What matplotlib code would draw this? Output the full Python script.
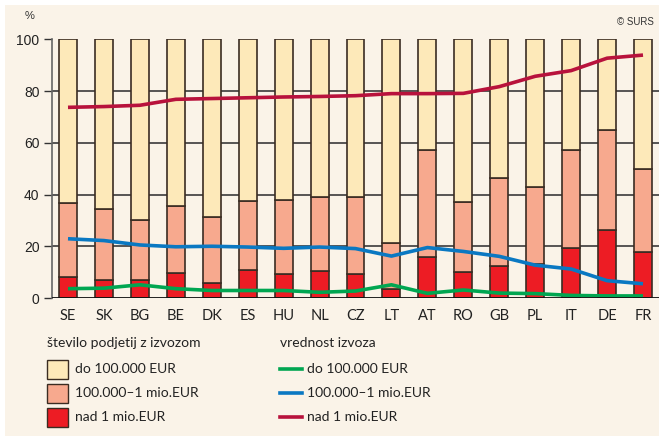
import numpy as np
import matplotlib
matplotlib.use('Agg')
import matplotlib.pyplot as plt
from matplotlib.patches import Rectangle
from matplotlib.lines import Line2D

countries = ["SE", "SK", "BG", "BE", "DK", "ES", "HU", "NL", "CZ",
             "LT", "AT", "RO", "GB", "PL", "IT", "DE", "FR"]

# stevilo podjetij z izvozom (cumulative shares, %)
nad1 = [8.3, 7.1, 7.0, 9.6, 5.9, 10.8, 9.1, 10.4, 9.4,
        3.3, 15.8, 9.9, 12.5, 13.1, 19.3, 26.4, 17.8]
do1mio_top = [36.8, 34.5, 30.2, 35.6, 31.5, 37.6, 37.8, 39.2, 39.2,
              21.2, 57.3, 37.2, 46.2, 42.8, 57.1, 65.1, 49.7]

# vrednost izvoza (%)
val_do100k = [3.6, 3.8, 5.1, 3.6, 2.9, 2.9, 2.9, 2.2, 2.7,
              5.1, 1.8, 3.1, 1.9, 1.7, 1.0, 0.8, 0.8]
val_mid = [22.9, 22.2, 20.5, 19.8, 20.0, 19.7, 19.2, 19.7, 19.1,
           16.2, 19.5, 18.0, 16.1, 12.7, 11.2, 6.7, 5.5]
val_nad1 = [73.7, 74.0, 74.5, 76.8, 77.1, 77.4, 77.7, 77.9, 78.2,
            79.0, 79.0, 79.1, 81.7, 85.7, 87.9, 92.7, 93.9]

BG = "#faf3e8"
C_LIGHT = "#fde9b9"
C_SALMON = "#f7a98e"
C_RED = "#ed1c24"
L_GREEN = "#00a651"
L_BLUE = "#0a78c2"
L_RED = "#b8123c"
EDGE = "#3a2c22"

W, H = 659, 436
fig = plt.figure(figsize=(W / 100, H / 100), dpi=100)
fig.patch.set_facecolor("white")
fig.add_artist(Rectangle((5 / W, 0), 1, 1 - 5 / H, transform=fig.transFigure,
                         facecolor=BG, edgecolor="none", zorder=-10))

ax = fig.add_axes([52 / W, 1 - 298 / H, (W - 52) / W, (298 - 39.3) / H])
ax.patch.set_alpha(0)

x = np.arange(len(countries))
nad1 = np.array(nad1)
mid_top = np.array(do1mio_top)
bw = 0.5
ax.bar(x, nad1, bw, color=C_RED, edgecolor=EDGE, linewidth=1.2, zorder=3)
ax.bar(x, mid_top - nad1, bw, bottom=nad1, color=C_SALMON, edgecolor=EDGE, linewidth=1.2, zorder=3)
ax.bar(x, 100 - mid_top, bw, bottom=mid_top, color=C_LIGHT, edgecolor=EDGE, linewidth=1.2, zorder=3)

ax.plot(x, val_do100k, color=L_GREEN, lw=2.6, zorder=4, solid_capstyle="butt")
ax.plot(x, val_mid, color=L_BLUE, lw=2.6, zorder=4, solid_capstyle="butt")
ax.plot(x, val_nad1, color=L_RED, lw=2.6, zorder=4, solid_capstyle="butt")

ax.set_xlim(-0.445, 16.445)
ax.set_ylim(0, 100)
for yv in [20, 40, 60, 80]:
    ax.axhline(yv, color="#3a3a3a", lw=1.2, zorder=1)
ax.axhline(0, color="#111111", lw=1.3, zorder=5)

for s in ["top", "right", "bottom"]:
    ax.spines[s].set_visible(False)
ax.spines["left"].set_color("#666666")
ax.spines["left"].set_linewidth(1.2)
ax.set_yticks([0, 20, 40, 60, 80, 100])
ax.tick_params(axis="y", length=6, width=1, color="#333333", pad=3,
               labelsize=10, labelcolor="#222222")
for lab in ax.get_yticklabels():
    lab.set_family("Liberation Sans")
ax.set_xticks(x)
ax.set_xticklabels(countries, family="Lato", fontsize=10.5, color="#222222")
ax.tick_params(axis="x", length=0, pad=8)

fig.text(30 / W, 1 - 16 / H, "%", fontsize=8, family="Liberation Sans", color="#333333",
         ha="center", va="center")
fig.text(654 / W, 1 - 22 / H, "© SURS", fontsize=7, family="Liberation Sans", color="#333333",
         ha="right", va="center")

# legend
fig.text(47 / W, 1 - 343 / H, "število podjetij z izvozom", fontsize=10, family="Lato",
         color="#222222", va="center")
fig.text(280 / W, 1 - 343 / H, "vrednost izvoza", fontsize=10, family="Lato",
         color="#222222", va="center")
labels = ["do 100.000 EUR", "100.000–1 mio.EUR", "nad 1 mio.EUR"]
pcols = [C_LIGHT, C_SALMON, C_RED]
lcols = [L_GREEN, L_BLUE, L_RED]
rows = [369, 393, 417]
for lab, pc, lc, yr in zip(labels, pcols, lcols, rows):
    fig.add_artist(Rectangle((47 / W, 1 - (yr + 9.5) / H), 21 / W, 19 / H,
                             transform=fig.transFigure, facecolor=pc, edgecolor=EDGE, lw=1))
    fig.text(75 / W, 1 - yr / H, lab, fontsize=10, family="Lato", color="#222222", va="center")
    fig.add_artist(Line2D([280 / W, 302 / W], [1 - yr / H, 1 - yr / H],
                          transform=fig.transFigure, color=lc, lw=2.6))
    fig.text(307 / W, 1 - yr / H, lab, fontsize=10, family="Lato", color="#222222", va="center")

fig.savefig("out.png", dpi=100, facecolor=fig.get_facecolor())
